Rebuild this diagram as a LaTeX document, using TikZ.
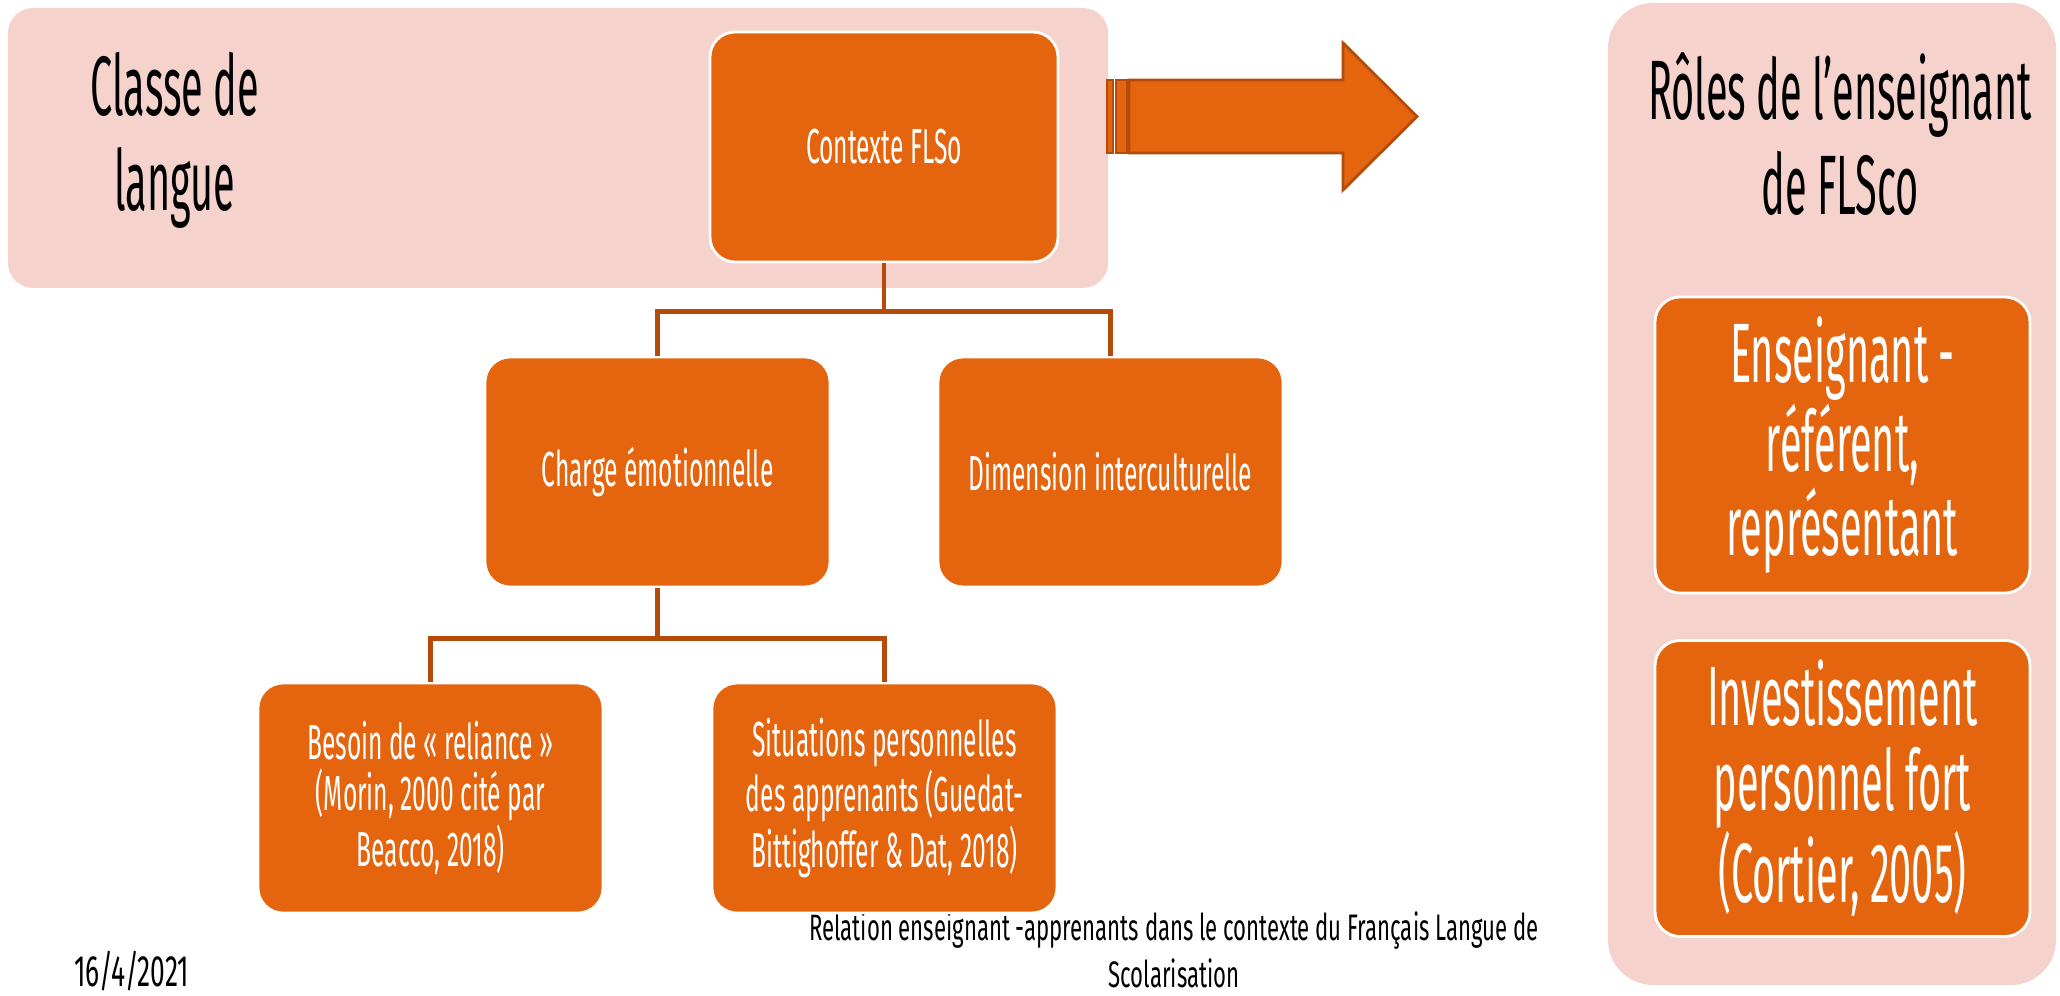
\documentclass[tikz,border=0pt]{standalone}
\usepackage{fontspec}
\setmainfont{Fira Sans}[FakeStretch=0.5]
\newfontfamily\widefont{Fira Sans}[FakeStretch=0.6]
\newfontfamily\narrowfont{Fira Sans}[FakeStretch=0.47]
\definecolor{rust}{RGB}{228,101,14}
\definecolor{blush}{RGB}{245,211,204}
\definecolor{edge}{RGB}{180,75,10}
\tikzset{
  box/.style={rectangle, rounded corners=0.25cm, fill=rust, draw=white, line width=0.8pt,
    text=white, align=center, minimum width=3.45cm, minimum height=2.30cm,
    font=\fontsize{14}{14.6}\selectfont},
  bigbox/.style={box, minimum width=3.75cm, minimum height=2.96cm,
    font=\narrowfont\fontsize{24}{24}\selectfont},
  link/.style={draw=edge, line width=1.2pt}
}
\begin{document}
\begin{tikzpicture}
    \useasboundingbox (0,0) rectangle (20.6,9.95);

    % fonds
    \fill[blush, rounded corners=0.25cm] (0.08,7.07) rectangle (11.08,9.87);
    \fill[blush, rounded corners=0.45cm] (16.08,0.10) rectangle (20.56,9.92);

    % pied de page
    \node[font=\widefont\fontsize{10.5}{13.4}\selectfont, align=center, inner sep=1pt] (titre) at (11.74,0.45)
        {Relation enseignant -apprenants dans le contexte du Français Langue de\\Scolarisation};
    \node[anchor=west, font=\widefont\fontsize{12.5}{13.4}\selectfont, inner sep=1pt] (date) at (0.70,0.24) {16/4/2021};

    % titres
    \node[font=\narrowfont\fontsize{24}{27}\selectfont, align=center] (classe) at (1.75,8.55) {Classe de\\langue};
    \node[font=\narrowfont\fontsize{24}{27}\selectfont, align=center] (roles) at (18.40,8.61) {Rôles de l’enseignant\\de FLSco};

    % fleche
    \filldraw[fill=rust, draw=edge, line width=0.8pt] (11.29,9.15) -- (13.43,9.15) -- (13.43,9.52)
        -- (14.17,8.785) -- (13.43,8.05) -- (13.43,8.42) -- (11.29,8.42) -- cycle;
    \filldraw[fill=rust, draw=edge, line width=0.8pt] (11.07,8.42) rectangle (11.13,9.15);
    \filldraw[fill=rust, draw=edge, line width=0.8pt] (11.16,8.42) rectangle (11.27,9.15);

    % arbre
    \node[box, minimum width=3.48cm] (ctx) at (8.84,8.48) {Contexte FLSo};
    \node[box] (charge) at (6.575,5.23) {Charge émotionnelle};
    \node[box] (dim) at (11.105,5.23) {Dimension interculturelle};
    \node[box] (besoin) at (4.305,1.97) {Besoin de « reliance »\\(Morin, 2000 cité par\\Beacco, 2018)};
    \node[box] (situ) at (8.845,1.97) {Situations personnelles\\des apprenants (Guedat-\\Bittighoffer \& Dat, 2018)};

    \draw[link] (ctx.south) -- ++(0,-0.48) -| (charge.north);
    \draw[link] (ctx.south) -- ++(0,-0.48) -| (dim.north);
    \draw[link] (charge.south) -- ++(0,-0.50) -| (besoin.north);
    \draw[link] (charge.south) -- ++(0,-0.50) -| (situ.north);

    % roles
    \node[bigbox] (referent) at (18.425,5.50) {Enseignant -\\référent,\\représentant};
    \node[bigbox] (invest) at (18.425,2.065) {Investissement\\personnel fort\\(Cortier, 2005)};
\end{tikzpicture}
\end{document}
